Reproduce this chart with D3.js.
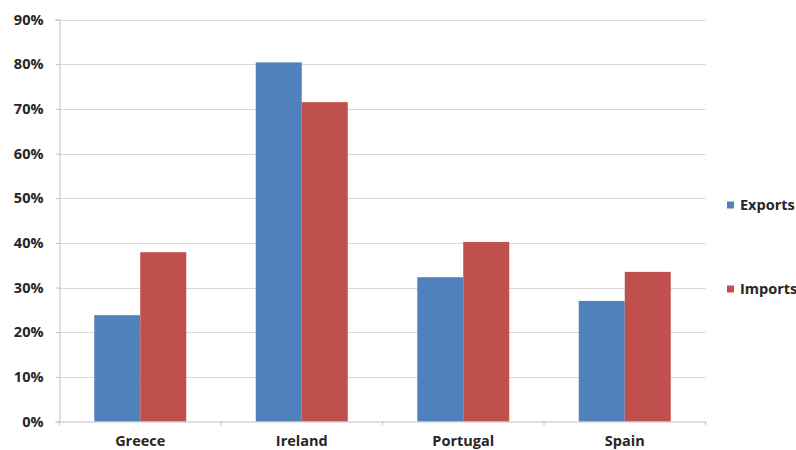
<!DOCTYPE html>
<html><head><meta charset="utf-8">
<script src="https://cdn.jsdelivr.net/npm/d3@7"></script>
<style>html,body{margin:0;padding:0;background:#fff;}svg{display:block;}</style>
</head><body>
<script>
const categories = ["Greece", "Ireland", "Portugal", "Spain"];
const seriesNames = ["Exports", "Imports"];
const exportsVals = [0.238, 0.804, 0.323, 0.270];
const importsVals = [0.379, 0.715, 0.402, 0.335];
const yTicks = [0, 0.1, 0.2, 0.3, 0.4, 0.5, 0.6, 0.7, 0.8, 0.9];
const colors = ["#4f81bd", "#c0504d"];

(function () {
const W = 796, H = 450;
const svg = d3.select("body").append("svg").attr("width", W).attr("height", H);
const pLeft = 59.5, pRight = 705.5, pTop = 19.5, pBottom = 421.5;
const font = "'Open Sans', 'Liberation Sans', sans-serif";
const fs = 14.5;

const y = d3.scaleLinear().domain([0, 0.9]).range([pBottom, pTop]);
const x0 = d3.scaleBand().domain(categories).range([pLeft, pRight]).paddingInner(0).paddingOuter(0);
const groupW = 92;
const x1 = d3.scaleBand().domain(seriesNames).range([0, groupW]).padding(0);

// gridlines
svg.append("g").selectAll("line").data(yTicks.filter(d => d > 0)).join("line")
  .attr("x1", pLeft).attr("x2", pRight)
  .attr("y1", d => Math.round(y(d)) + 0.5).attr("y2", d => Math.round(y(d)) + 0.5)
  .attr("stroke", "#d9d9d9").attr("stroke-width", 1);

// bars
const data = [exportsVals, importsVals];
const g = svg.append("g");
categories.forEach((c, i) => {
  seriesNames.forEach((s, j) => {
    const v = data[j][i];
    g.append("rect")
      .attr("x", x0(c) + (x0.bandwidth() - groupW) / 2 + x1(s))
      .attr("y", y(v))
      .attr("width", x1.bandwidth())
      .attr("height", y(0) - y(v))
      .attr("fill", colors[j]);
  });
});

// y axis
const yAxis = d3.axisLeft(y).tickValues(yTicks).tickFormat(d3.format(".0%")).tickSize(4).tickPadding(12);
const ya = svg.append("g").attr("transform", `translate(${pLeft},0)`).call(yAxis);
ya.select(".domain").attr("stroke", "#c0c0c0");
ya.selectAll(".tick line").attr("stroke", "#c0c0c0");
ya.selectAll(".tick text").attr("font-family", font).attr("font-size", fs).attr("font-weight", "bold").attr("fill", "#262626");

// x axis
const xa = svg.append("g").attr("transform", `translate(0,${pBottom})`)
  .call(d3.axisBottom(x0).tickSize(0).tickPadding(14));
xa.select(".domain").attr("stroke", "#c0c0c0");
xa.selectAll(".tick text").attr("font-family", font).attr("font-size", fs).attr("font-weight", "bold").attr("fill", "#262626");
// category boundary ticks
const bounds = categories.map(c => x0(c)).concat([x0(categories[categories.length - 1]) + x0.bandwidth()]);
svg.append("g").selectAll("line").data(bounds).join("line")
  .attr("x1", d => d).attr("x2", d => d).attr("y1", pBottom).attr("y2", pBottom + 4)
  .attr("stroke", "#c0c0c0");

// legend
const legendY = [205, 289];
seriesNames.forEach((s, j) => {
  svg.append("rect").attr("x", 727).attr("y", legendY[j] - 3.5).attr("width", 7).attr("height", 7).attr("fill", colors[j]);
  svg.append("text").attr("x", 740).attr("y", legendY[j]).attr("dy", "0.35em")
    .attr("font-family", font).attr("font-size", fs).attr("font-weight", "bold").attr("fill", "#262626").text(s);
});
})();
</script>
</body></html>
